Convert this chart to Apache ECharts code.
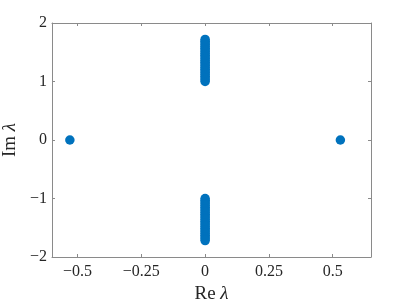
<!DOCTYPE html>
<html>
<head>
<meta charset="utf-8">
<script src="https://cdn.jsdelivr.net/npm/echarts@6/dist/echarts.min.js"></script>
<style>
  html, body { margin: 0; padding: 0; background: #fff; }
  #chart { width: 409px; height: 307px; }
</style>
</head>
<body>
<div id="chart"></div>
<script>
// eigenvalues
const outerRe = [-0.53, 0.53]
const upperIm = [1.00, 1.03, 1.06, 1.09, 1.12, 1.15, 1.18, 1.21, 1.24, 1.27, 1.30, 1.33, 1.36,
  1.39, 1.42, 1.45, 1.48, 1.51, 1.54, 1.57, 1.60, 1.63, 1.66, 1.69, 1.72]
const lowerIm = [-1.00, -1.03, -1.06, -1.09, -1.12, -1.15, -1.18, -1.21, -1.24, -1.27, -1.30, -1.33, -1.36,
  -1.39, -1.42, -1.45, -1.48, -1.51, -1.54, -1.57, -1.60, -1.63, -1.66, -1.69, -1.72]
const xTicks = [-0.5, -0.25, 0, 0.25, 0.5]
const yTicks = [-2, -1, 0, 1, 2]

const font = "'Liberation Serif', 'DejaVu Serif', serif"
const axisGrey = '#8a8a8a'
const labelColor = '#262626'
const fmt = (v) => (v < 0 ? '\u2212' + Math.abs(v) : String(v))

const points = []
outerRe.forEach((re) => points.push([re, 0]))
upperIm.forEach((im) => points.push([0, im]))
lowerIm.forEach((im) => points.push([0, im]))

const chart = echarts.init(document.getElementById('chart'))

const baseX = {
  type: 'value',
  min: -0.6,
  max: 0.65,
  splitLine: { show: false },
  axisLine: { show: true, onZero: false, lineStyle: { color: axisGrey, width: 1 } },
  axisTick: { show: true, inside: true, length: 3, customValues: xTicks, lineStyle: { color: axisGrey } },
}
const baseY = {
  type: 'value',
  min: -2,
  max: 2,
  splitLine: { show: false },
  axisLine: { show: true, onZero: false, lineStyle: { color: axisGrey, width: 1 } },
  axisTick: { show: true, inside: true, length: 3, customValues: yTicks, lineStyle: { color: axisGrey } },
}

chart.setOption({
  animation: false,
  grid: { left: 52, right: 38, top: 23, bottom: 50, containLabel: false, outerBoundsMode: 'none' },
  xAxis: [
    Object.assign({}, baseX, {
      position: 'bottom',
      axisLabel: {
        customValues: xTicks, formatter: fmt, margin: 7,
        fontFamily: font, fontSize: 16, color: labelColor,
      },
      name: 'Re {i|λ}',
      nameLocation: 'middle',
      nameGap: 26,
      nameTextStyle: {
        fontFamily: font, fontSize: 19, color: labelColor,
        rich: { i: { fontFamily: font, fontSize: 19, fontStyle: 'italic', color: labelColor } },
      },
    }),
    Object.assign({}, baseX, { position: 'top', axisLabel: { show: false } }),
  ],
  yAxis: [
    Object.assign({}, baseY, {
      position: 'left',
      axisLabel: {
        customValues: yTicks, formatter: fmt, margin: 5,
        fontFamily: font, fontSize: 16, color: labelColor,
      },
      name: 'Im {i|λ}',
      nameLocation: 'middle',
      nameGap: 23,
      nameTextStyle: {
        fontFamily: font, fontSize: 19, color: labelColor,
        rich: { i: { fontFamily: font, fontSize: 19, fontStyle: 'italic', color: labelColor } },
      },
    }),
    Object.assign({}, baseY, { position: 'right', axisLabel: { show: false } }),
  ],
  series: [
    {
      type: 'scatter',
      xAxisIndex: 0,
      yAxisIndex: 0,
      symbol: 'circle',
      symbolSize: 9.5,
      itemStyle: { color: '#0072BD', opacity: 1 },
      data: points,
    },
  ],
})
</script>
</body>
</html>
